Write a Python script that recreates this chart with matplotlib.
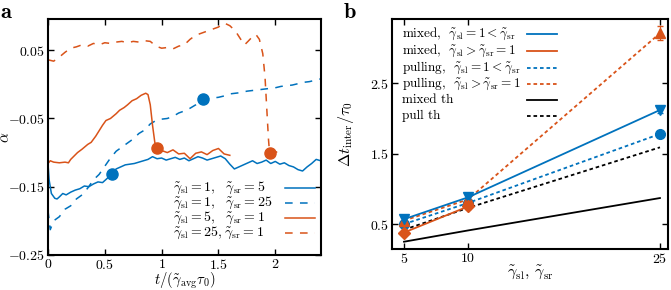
import numpy as np
import matplotlib
matplotlib.use('Agg')
import matplotlib.pyplot as plt

plt.rcParams['font.family'] = 'serif'
plt.rcParams['font.serif'] = ['cmr10', 'DejaVu Serif']
plt.rcParams['mathtext.fontset'] = 'cm'
plt.rcParams['axes.formatter.use_mathtext'] = True
plt.rcParams['axes.unicode_minus'] = False

blue = '#0072BD'
orange = '#D95319'

# ---- panel a: alpha(t) ----
t_sr5 = [0, 0.01, 0.03, 0.06, 0.08, 0.1, 0.13, 0.16,
         0.2, 0.24, 0.28, 0.32, 0.36, 0.4, 0.44, 0.48,
         0.52, 0.56, 0.6, 0.64, 0.68, 0.72, 0.76, 0.8,
         0.84, 0.88, 0.92, 0.96, 1.0, 1.04, 1.08, 1.12,
         1.16, 1.2, 1.24, 1.28, 1.32, 1.36, 1.4, 1.44,
         1.48, 1.52, 1.56, 1.6, 1.64, 1.68, 1.72, 1.76,
         1.8, 1.84, 1.88, 1.92, 1.96, 2.0, 2.04, 2.08,
         2.12, 2.16, 2.2, 2.24, 2.28, 2.32, 2.36, 2.4]
a_sr5 = [-0.116, -0.14, -0.16, -0.167, -0.168, -0.165, -0.16, -0.162,
         -0.158, -0.155, -0.153, -0.149, -0.150, -0.146, -0.143, -0.144,
         -0.138, -0.131, -0.124, -0.121, -0.118, -0.117, -0.116, -0.114,
         -0.112, -0.110, -0.106, -0.109, -0.108, -0.111, -0.109, -0.107,
         -0.110, -0.108, -0.112, -0.109, -0.106, -0.108, -0.111, -0.109,
         -0.107, -0.105, -0.109, -0.117, -0.124, -0.121, -0.118, -0.115,
         -0.112, -0.116, -0.114, -0.111, -0.116, -0.113, -0.117, -0.115,
         -0.119, -0.121, -0.125, -0.127, -0.121, -0.116, -0.110, -0.112]

t_sr25 = [0, 0.02, 0.05, 0.1, 0.15, 0.2, 0.25, 0.3, 0.35, 0.4,
          0.45, 0.5, 0.55, 0.6, 0.65, 0.7, 0.75, 0.8, 0.85, 0.9,
          0.95, 1.0, 1.05, 1.1, 1.15, 1.2, 1.25, 1.3, 1.35, 1.4,
          1.45, 1.5, 1.55, 1.6, 1.65, 1.7, 1.75, 1.8, 1.85, 1.9,
          1.95, 2.0, 2.05, 2.1, 2.15, 2.2, 2.25, 2.3, 2.35, 2.4]
a_sr25 = [-0.185, -0.213, -0.2, -0.194, -0.183, -0.178, -0.168, -0.162, -0.152, -0.14,
          -0.132, -0.12, -0.108, -0.098, -0.092, -0.086, -0.08, -0.072, -0.067, -0.058,
          -0.053, -0.051, -0.05, -0.047, -0.042, -0.039, -0.035, -0.03, -0.023, -0.021,
          -0.02, -0.019, -0.017, -0.014, -0.013, -0.012, -0.010, -0.009, -0.008, -0.007,
          -0.006, -0.005, -0.003, -0.002, -0.001, 0.001, 0.003, 0.004, 0.006, 0.008]

t_sl5 = [0, 0.02, 0.05, 0.1, 0.15, 0.18, 0.2, 0.23, 0.26, 0.3,
         0.35, 0.38, 0.42, 0.45, 0.48, 0.51, 0.55, 0.6, 0.63, 0.67,
         0.7, 0.74, 0.78, 0.82, 0.86, 0.88, 0.9, 0.92, 0.94, 0.96,
         1.0, 1.05, 1.1, 1.15, 1.2, 1.25, 1.3, 1.35, 1.4, 1.45,
         1.5, 1.55, 1.6]
a_sl5 = [-0.116, -0.112, -0.114, -0.115, -0.114, -0.115, -0.11, -0.105, -0.1, -0.095,
         -0.088, -0.085, -0.076, -0.068, -0.06, -0.053, -0.05, -0.043, -0.038, -0.034,
         -0.03, -0.024, -0.021, -0.016, -0.013, -0.015, -0.03, -0.06, -0.085, -0.094,
         -0.097, -0.1, -0.096, -0.102, -0.101, -0.109, -0.101, -0.099, -0.103, -0.097,
         -0.094, -0.102, -0.104]

t_sl25 = [0, 0.05, 0.1, 0.15, 0.2, 0.25, 0.3, 0.35, 0.4, 0.45,
          0.5, 0.55, 0.6, 0.65, 0.7, 0.75, 0.8, 0.85, 0.9, 0.95,
          1.0, 1.05, 1.1, 1.15, 1.2, 1.25, 1.3, 1.35, 1.4, 1.45,
          1.5, 1.55, 1.6, 1.65, 1.7, 1.73, 1.76, 1.8, 1.83, 1.86,
          1.89, 1.91, 1.93, 1.94, 1.95, 2.0, 2.05]
a_sl25 = [0.036, 0.034, 0.04, 0.047, 0.053, 0.055, 0.058, 0.056, 0.06, 0.058,
          0.061, 0.06, 0.062, 0.063, 0.061, 0.063, 0.062, 0.064, 0.063, 0.056,
          0.053, 0.054, 0.052, 0.056, 0.058, 0.066, 0.072, 0.075, 0.078, 0.081,
          0.084, 0.09, 0.086, 0.078, 0.065, 0.058, 0.063, 0.07, 0.073, 0.066,
          0.045, 0.01, -0.05, -0.08, -0.101, -0.1, -0.096]

# marker positions (t, alpha)
dots_t = [0.56, 1.36, 0.96, 1.95]
dots_a = [-0.131, -0.022, -0.094, -0.101]

labels_a = [r'$\tilde{\gamma}_{\rm sl}=1,\ \ \tilde{\gamma}_{\rm sr}=5$',
            r'$\tilde{\gamma}_{\rm sl}=1,\ \ \tilde{\gamma}_{\rm sr}=25$',
            r'$\tilde{\gamma}_{\rm sl}=5,\ \ \tilde{\gamma}_{\rm sr}=1$',
            r'$\tilde{\gamma}_{\rm sl}=25,\tilde{\gamma}_{\rm sr}=1$']

# ---- panel b: inter-event time ----
gam = [5, 10, 25]
mixed_sr = [0.57, 0.88, 2.12]
mixed_sl = [0.38, 0.75]
pull_sr = [0.50, 0.80, 1.78]
pull_sl = [0.55, 0.85, 3.21]
pull_sl_err = [0.05, 0.05, 0.1]
mixed_th = [0.25, 0.41, 0.87]
pull_th = [0.42, 0.73, 1.59]

labels_b = [r'mixed, $\ \tilde{\gamma}_{\rm sl}=1<\tilde{\gamma}_{\rm sr}$',
            r'mixed, $\ \tilde{\gamma}_{\rm sl}>\tilde{\gamma}_{\rm sr}=1$',
            r'pulling, $\ \tilde{\gamma}_{\rm sl}=1<\tilde{\gamma}_{\rm sr}$',
            r'pulling, $\ \tilde{\gamma}_{\rm sl}>\tilde{\gamma}_{\rm sr}=1$',
            'mixed th', 'pull th']

fig = plt.figure(figsize=(6.71, 2.90), dpi=100)
ax1 = fig.add_axes([0.0715, 0.121, 0.4065, 0.813])
ax2 = fig.add_axes([0.584, 0.141, 0.411, 0.793])

lw = 1.1
dash = (5, 4.8)
ax1.plot(t_sr5, a_sr5, color=blue, lw=lw)
ax1.plot(t_sr25, a_sr25, color=blue, lw=lw, dashes=dash)
ax1.plot(t_sl5, a_sl5, color=orange, lw=lw)
ax1.plot(t_sl25, a_sl25, color=orange, lw=lw, dashes=dash)
ax1.plot(dots_t[:2], dots_a[:2], 'o', color=blue, ms=8, ls='none')
ax1.plot(dots_t[2:], dots_a[2:], 'o', color=orange, ms=8, ls='none')


def legend_rows(ax, labels, styles, x_text, x_h0, x_h1, ys, size):
    # hand-made legend: text left aligned, line sample on the right
    for lab, (col, dsh, w), y in zip(labels, styles, ys):
        ax.text(x_text, y, lab, transform=ax.transAxes, fontsize=size,
                va='center', ha='left')
        ln, = ax.plot([x_h0, x_h1], [y, y], transform=ax.transAxes,
                      color=col, lw=w, clip_on=False)
        if dsh is not None:
            ln.set_dashes(dsh)


legend_rows(ax1, labels_a,
            [(blue, None, lw), (blue, dash, lw), (orange, None, lw), (orange, dash, lw)],
            0.458, 0.868, 0.978, [0.284, 0.222, 0.157, 0.093], 10)

ax1.set_xlim(0, 2.4)
ax1.set_ylim(-0.25, 0.0956)
ax1.set_xticks([0, 0.5, 1, 1.5, 2])
ax1.set_xticklabels(['$0$', '$0.5$', '$1$', '$1.5$', '$2$'])
ax1.set_yticks([0.05, -0.05, -0.15, -0.25])
ax1.set_yticklabels(['$0.05$', '$-0.05$', '$-0.15$', '$-0.25$'])
ax1.set_xlabel(r'$t/(\tilde{\gamma}_{\rm avg}\tau_0)$', fontsize=10.5)
ax1.set_ylabel(r'$\alpha$', fontsize=11)
ax1.xaxis.set_label_coords(0.5, -0.066)
ax1.yaxis.set_label_coords(-0.13, 0.5)

# panel b
dot = (2, 1.6)
lw2 = 1.3
ax2.plot(gam, mixed_th, color='black', lw=lw2)
ax2.plot(gam, pull_th, color='black', lw=lw2, dashes=dot)
ax2.errorbar(gam, pull_sr, yerr=0.04, color=blue, lw=lw2, dashes=dot,
             marker='o', ms=7, capsize=2, elinewidth=0.8)
ax2.errorbar(gam, pull_sl, yerr=pull_sl_err, color=orange, lw=lw2, dashes=dot,
             marker='^', ms=7, capsize=2, elinewidth=0.8)
ax2.errorbar(gam, mixed_sr, yerr=0.04, color=blue, lw=lw2,
             marker='v', ms=7, capsize=2, elinewidth=0.8)
ax2.errorbar(gam[:2], mixed_sl, yerr=0.04, color=orange, lw=lw2,
             marker='D', ms=6, capsize=2, elinewidth=0.8)

legend_rows(ax2, labels_b,
            [(blue, None, lw2), (orange, None, lw2), (blue, dot, lw2),
             (orange, dot, lw2), ('black', None, lw2), ('black', dot, lw2)],
            0.036, 0.489, 0.598, [0.935, 0.863, 0.789, 0.720, 0.650, 0.578], 9.5)

ax2.set_xlim(4.05, 25.6)
ax2.set_ylim(0.145, 3.41)
ax2.set_xticks(gam)
ax2.set_xticklabels(['$5$', '$10$', '$25$'])
ax2.set_yticks([0.5, 1.5, 2.5])
ax2.set_yticklabels(['$0.5$', '$1.5$', '$2.5$'])
ax2.set_xlabel(r'$\tilde{\gamma}_{\rm sl},\,\tilde{\gamma}_{\rm sr}$', fontsize=11.5)
ax2.set_ylabel(r'$\Delta t_{\rm inter}/\tau_0$', fontsize=11.5)
ax2.xaxis.set_label_coords(0.5, -0.065)
ax2.yaxis.set_label_coords(-0.13, 0.5)

for ax in (ax1, ax2):
    ax.tick_params(direction='in', top=True, right=True, length=4, width=1,
                   labelsize=10, pad=2)
    for s in ax.spines.values():
        s.set_linewidth(1.5)

fig.text(0.0, 0.99, 'a', fontsize=16, family='cmb10', va='top', ha='left')
fig.text(0.512, 0.99, 'b', fontsize=16, family='cmb10', va='top', ha='left')

fig.savefig('out.png', dpi=100)
